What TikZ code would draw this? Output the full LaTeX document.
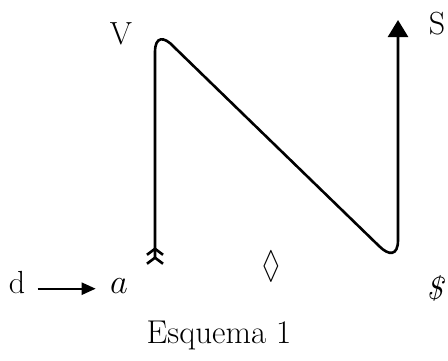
\documentclass[tikz,border=0pt]{standalone}
\usepackage{amssymb}
\usepackage{amsmath}
\usepackage{tikz}
\usetikzlibrary{arrows.meta, positioning}

\begin{document}
\begin{tikzpicture}[x=0.5pt,y=-0.5pt,
		lbl/.style={inner sep=0pt, font=\fontsize{16}{19}\selectfont}]
				\useasboundingbox (0,0) rectangle (448,360);
				% trayecto
				\coordinate (cola) at (155,265);
				\coordinate (sube) at (155,52);
				\coordinate (baja) at (174,47);
				\coordinate (llega) at (379,246);
				\coordinate (vuelve) at (398,240);
				\coordinate (punta) at (398,20);
				\draw[line width=1.3pt,
					{Straight Barb[reversed,length=3pt,width=8pt]Straight Barb[reversed,length=3pt,width=8pt]}-{Triangle[length=8.5pt,width=10pt]}]
					(cola) -- (sube) .. controls (155,36) and (164,36) .. (baja)
					-- (llega) .. controls (389,256) and (398,256) .. (vuelve) -- (punta);
				\node[lbl] (V) at (121,34) {V};
				\node[lbl] (S) at (437,24) {S};
				\node[lbl,anchor=base] (d) at (17,293) {d};
				\node[lbl,anchor=base] (a) at (119,293) {$a$};
				\draw[line width=1.1pt,shorten <=6pt,shorten >=7pt,-{Triangle[length=7pt,width=6pt]}] (d.mid east) -- (a.mid west);
				\node[lbl] (rombo) at (271,266) {\scalebox{0.7}[1]{\fontsize{19}{22}\selectfont$\lozenge$}};
				\node[lbl] (dolar) at (436,288) {\textit{\$}};
				\node[lbl,font=\fontsize{16.5}{19}\selectfont] (titulo) at (219,335) {Esquema 1};
			\end{tikzpicture}
\end{document}
